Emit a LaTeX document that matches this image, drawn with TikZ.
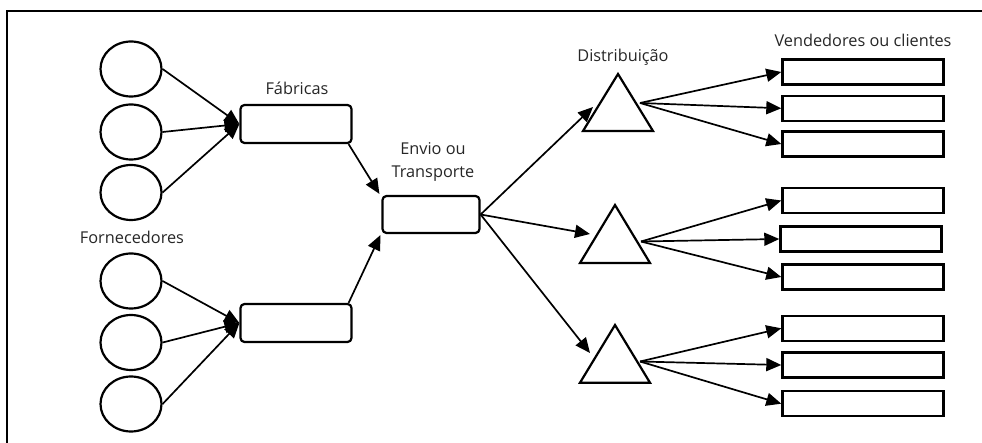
\documentclass[tikz,border=0pt]{standalone}
\usepackage{fontspec}
\setmainfont{Open Sans}
\usetikzlibrary{arrows.meta,calc,shapes.geometric}
\begin{document}
\begin{tikzpicture}[x=1pt,y=-1pt,
  sup/.style={draw,ellipse,line width=2.2pt,minimum width=61pt,minimum height=55pt,inner sep=0pt},
  fab/.style={draw,rounded corners=4pt,line width=2.2pt,minimum width=111pt,minimum height=38pt,inner sep=0pt},
  cli/.style={draw,line width=2.4pt,minimum width=161pt,minimum height=25pt,inner sep=0pt},
  tri/.style={draw,line width=2.2pt,line join=miter},
  arr/.style={line width=1.7pt,-{Triangle[length=15pt,width=13pt]}},
  lbl/.style={font=\fontsize{16.3}{23}\selectfont,text=black!85,inner sep=0pt,align=center}]
\useasboundingbox (0,0) rectangle (982,443);
\draw[line width=2.4pt] (7,443) -- (7,11) -- (982,11);
% suppliers
\node[sup] (c1) at (131,69) {};
\node[sup] (c2) at (131,132) {};
\node[sup] (c3) at (131,192.5) {};
\node[sup] (c4) at (131,281) {};
\node[sup] (c5) at (131,342.5) {};
\node[sup] (c6) at (131,404) {};
\node[lbl] (lforn) at (132,237) {Fornecedores};
% factories
\node[fab] (f1) at (296,124) {};
\node[fab] (f2) at (296,323) {};
\node[lbl] (lfab) at (297,88) {Fábricas};
% transport
\node[fab,minimum width=97pt,minimum height=37pt] (env) at (431,214.5) {};
\node[lbl] (lenv) at (433,161.5) {Envio ou\\Transporte};
% distribution triangles
\draw[tri] (618,74) -- (653,131) -- (583,131) -- cycle;
\draw[tri] (615,205) -- (650,263) -- (580,263) -- cycle;
\draw[tri] (615,325) -- (650,382.7) -- (580,382.7) -- cycle;
\coordinate (t1in) at (593,107);
\coordinate (t2in) at (590,234);
\coordinate (t3in) at (590,353);
\coordinate (t1out) at (640,103);
\coordinate (t2out) at (641,241.5);
\coordinate (t3out) at (640,361.5);
\node[lbl] (ldis) at (623,57) {Distribuição};
% clients
\node[cli] (v1) at (863,72) {};
\node[cli] (v2) at (863,108.3) {};
\node[cli] (v3) at (863,144) {};
\node[cli] (v4) at (863,200.5) {};
\node[cli] (v5) at (861,239) {};
\node[cli] (v6) at (863,277) {};
\node[cli] (v7) at (863,328.3) {};
\node[cli] (v8) at (863,365) {};
\node[cli] (v9) at (863,403.7) {};
\node[lbl] (lven) at (863,40) {Vendedores ou clientes};
% arrows suppliers -> factories
\foreach \c in {c1,c2,c3} \draw[arr] (\c.east) -- (f1.west);
\foreach \c in {c4,c5,c6} \draw[arr] (\c.east) -- (f2.west);
% factories -> transport
\draw[arr] ($(f1.south east)+(-4,0)$) -- ($(env.north west)+(-2,-1)$);
\draw[arr] ($(f2.north east)+(-4,0)$) -- ($(env.south west)+(-1,1)$);
% transport -> distribution
\draw[arr] (env.east) -- (t1in);
\draw[arr] (env.east) -- (t2in);
\draw[arr] (env.east) -- (t3in);
% distribution -> clients
\foreach \v in {v1,v2,v3} \draw[arr] (t1out) -- (\v.west);
\foreach \v in {v4,v5,v6} \draw[arr] (t2out) -- (\v.west);
\foreach \v in {v7,v8,v9} \draw[arr] (t3out) -- (\v.west);
\end{tikzpicture}
\end{document}
